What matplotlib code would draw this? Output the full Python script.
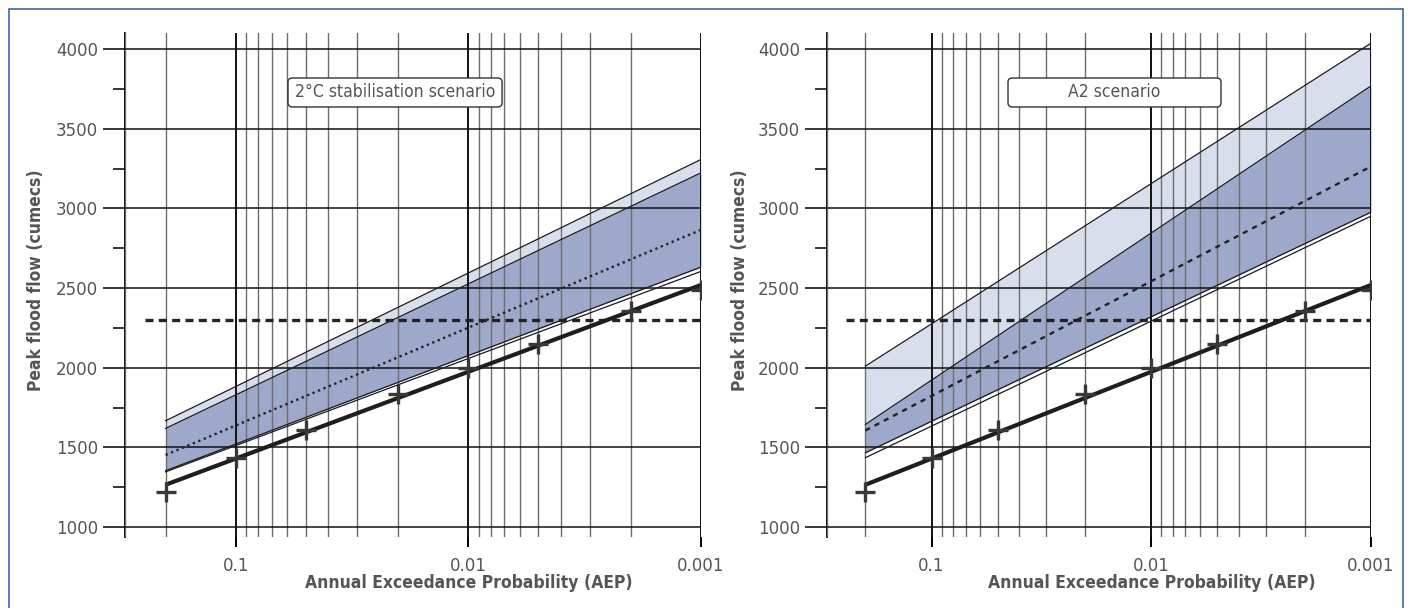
import numpy as np
import matplotlib
matplotlib.use('agg')
import matplotlib.pyplot as plt
from matplotlib.patches import FancyBboxPatch, Rectangle
from matplotlib.ticker import LogLocator, NullFormatter
from matplotlib import font_manager

# observed / fitted peak flows (same in both panels)
aep = [0.2, 0.1, 0.05, 0.02, 0.01, 0.005, 0.002, 0.001]
observed = [1220, 1435, 1610, 1835, 2000, 2150, 2355, 2490]
fit_aep = [0.2, 0.001]
fit_flow = [1265, 2520]
threshold_aep = [0.245, 0.001]
threshold_flow = [2300, 2300]

# projected bands, values at AEP 0.2 and 0.001
band_aep = [0.2, 0.001]
stab_outer_hi = [1667, 3308]
stab_inner_hi = [1619, 3224]
stab_median = [1452, 2866]
stab_inner_lo = [1353, 2632]
stab_outer_lo = [1346, 2605]

a2_outer_hi = [2010, 4038]
a2_inner_hi = [1644, 3770]
a2_median = [1606, 3264]
a2_inner_lo = [1466, 2977]
a2_outer_lo = [1435, 2952]

xticks = [0.1, 0.01, 0.001]
xticklabels = ['0.1', '0.01', '0.001']
yticks = [1000, 1500, 2000, 2500, 3000, 3500, 4000]
yminor = [1250, 1750, 2250, 2750, 3250, 3750]

LIGHT = '#d9deed'
DARK = '#9ea8cb'
GREY = '#555555'

# a narrow face if one is installed
names = {f.name for f in font_manager.fontManager.ttflist}
condensed = any(f.name == 'DejaVu Sans' and f.stretch in ('condensed', 'semi-condensed')
                for f in font_manager.fontManager.ttflist)
if 'Liberation Sans Narrow' in names:
    NARROW = dict(family=['Liberation Sans Narrow', 'DejaVu Sans'])
    LAB, BOX = 14, 13
elif condensed:
    NARROW = dict(family='DejaVu Sans', fontstretch='condensed')
    LAB, BOX = 12.5, 12.6
else:
    NARROW = dict(family='DejaVu Sans')
    LAB, BOX = 12, 11

W, H = 1408, 608
fig = plt.figure(figsize=(W / 100, H / 100), dpi=100)


def panel(left_px, right_px, title, box_x0, box_x1, outer_hi, inner_hi, median,
          inner_lo, outer_lo, med_dashes, ylab_x):
    ax = fig.add_axes([left_px / W, (H - 537) / H, (right_px - left_px) / W, 504 / H])
    ax.set_xscale('log')
    ax.set_xlim(0.3, 0.001)
    ax.set_ylim(937, 4102)

    ax.fill_between(band_aep, inner_hi, outer_hi, color=LIGHT, lw=0, zorder=1)
    ax.fill_between(band_aep, inner_lo, inner_hi, color=DARK, lw=0, zorder=1)
    for edge in (outer_hi, inner_hi, inner_lo, outer_lo):
        ax.plot(band_aep, edge, color='#1a1a1a', lw=0.9, zorder=3)
    ax.plot(band_aep, median, color='#222222', lw=1.7, dashes=med_dashes, zorder=3)

    ax.plot(threshold_aep, threshold_flow, color='#222222', lw=2.4,
            dashes=(2.4, 1.6), zorder=4)
    ax.plot(fit_aep, fit_flow, color='#1e1e1e', lw=3.0, solid_capstyle='butt', zorder=4)
    ax.plot(aep, observed, ls='none', marker='+', ms=15, mew=2.4,
            color='#383838', zorder=5)

    # axes / grid
    ax.set_xticks(xticks, labels=xticklabels)
    ax.xaxis.set_minor_locator(LogLocator(base=10, subs=np.arange(2, 10)))
    ax.xaxis.set_minor_formatter(NullFormatter())
    ax.set_yticks(yticks)
    ax.set_yticks(yminor, minor=True)
    ax.set_axisbelow(False)
    ax.grid(axis='x', which='major', color='#111111', lw=1.4)
    ax.grid(axis='x', which='minor', color='#6e6e6e', lw=1.0)
    ax.grid(axis='y', which='major', color='#111111', lw=1.1)
    for s in ('top', 'right', 'bottom'):
        ax.spines[s].set_visible(False)
    ax.spines['left'].set_linewidth(1.3)
    ax.tick_params(axis='x', which='major', length=7.5, width=1.4, pad=7,
                   labelsize=12, labelcolor=GREY)
    ax.tick_params(axis='x', which='minor', length=0)
    ax.tick_params(axis='y', which='major', length=16, width=1.1, pad=3,
                   labelsize=12, labelcolor=GREY)
    ax.tick_params(axis='y', which='minor', length=8.5, width=1.1)

    ax.set_xlabel('Annual Exceedance Probability (AEP)', fontsize=LAB,
                  fontweight='bold', color=GREY, va='center', **NARROW)
    ax.xaxis.set_label_coords(0.597, -0.0913)
    ax.set_ylabel('Peak flood flow (cumecs)', fontsize=LAB,
                  fontweight='bold', color=GREY, va='center', **NARROW)
    ax.yaxis.set_label_coords(ylab_x, 0.51)

    by0, by1 = 0.8532, 0.9107
    box = FancyBboxPatch((box_x0, by0), box_x1 - box_x0, by1 - by0,
                         boxstyle='round,pad=0,rounding_size=0.008',
                         transform=ax.transAxes, fc='white', ec='#333333',
                         lw=1.0, zorder=6)
    ax.add_patch(box)
    ax.text((box_x0 + box_x1) / 2, (by0 + by1) / 2, title, transform=ax.transAxes,
            ha='center', va='center', fontsize=BOX, color=GREY, zorder=7, **NARROW)
    return ax


panel(124.6, 701, '2°C stabilisation scenario', 0.2835, 0.6548,
      stab_outer_hi, stab_inner_hi, stab_median, stab_inner_lo, stab_outer_lo,
      (1.0, 1.5), -0.1537)
panel(826.7, 1371, 'A2 scenario', 0.3331, 0.7244,
      a2_outer_hi, a2_inner_hi, a2_median, a2_inner_lo, a2_outer_lo,
      (2.2, 2.2), -0.159)

fig.add_artist(Rectangle((9 / W, -0.02), (1402.7 - 9) / W, (H - 9) / H + 0.02,
                         transform=fig.transFigure, fill=False, ec='#3c67a6', lw=1.2))

fig.savefig('out.png', dpi=100)
